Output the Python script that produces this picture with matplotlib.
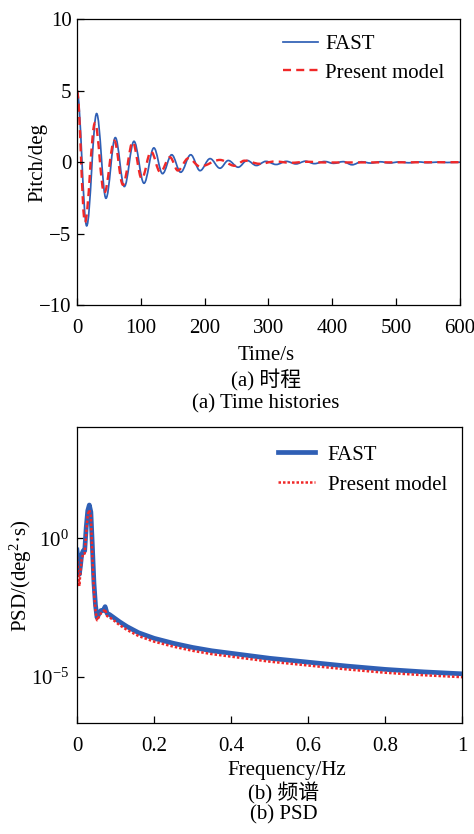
import matplotlib
matplotlib.use('Agg')
import matplotlib.pyplot as plt
from matplotlib.path import Path
from matplotlib.patches import PathPatch
from matplotlib.ticker import NullLocator

plt.rcParams['font.family'] = ['Liberation Serif', 'Noto Sans CJK SC']
plt.rcParams['mathtext.fontset'] = 'custom'
plt.rcParams['mathtext.rm'] = 'Liberation Serif'
plt.rcParams['mathtext.it'] = 'Liberation Serif:italic'
plt.rcParams['font.size'] = 15

# (a) time history: turning points (time s, pitch deg)
t_fast = [0, 15.2, 30.8, 45.4, 60.1, 74.2, 89.3, 105, 120.5, 134, 148.4, 162.5,
          178.2, 192.8, 208.5, 224, 237, 252.5, 266.6, 281, 296, 312, 328, 343,
          358, 372, 388, 402, 417, 431, 446, 460, 475, 490, 505, 520, 535, 550,
          565, 580, 600]
p_fast = [5.0, -4.45, 3.4, -2.52, 1.72, -1.7, 1.46, -1.47, 1.0, -0.8, 0.52, -0.7,
          0.52, -0.59, 0.25, -0.42, 0.12, -0.35, 0.12, -0.23, 0.06, -0.16, 0.06, -0.12,
          0.07, -0.1, 0.05, -0.08, 0.04, -0.18, 0.03, -0.06, 0.03, -0.05, 0.02, -0.04,
          0.02, -0.03, 0.01, -0.02, 0.0]
t_model = [0, 12.5, 28.2, 42.8, 58.5, 72, 87.3, 101.5, 116, 130.5, 145.7, 158,
           174.6, 192.8, 224, 247, 262.5, 286, 310, 335, 360, 390, 600]
p_model = [5.0, -4.2, 2.75, -2.15, 1.5, -1.58, 1.4, -1.15, 0.75, -0.7, 0.35, -0.58,
           0.28, -0.3, 0.16, -0.25, 0.11, -0.11, 0.05, -0.04, 0.03, -0.02, 0.0]

# (b) PSD
freq = [0, 0.003, 0.006, 0.009, 0.012, 0.016, 0.020, 0.024, 0.028, 0.032, 0.036,
        0.040, 0.044, 0.048, 0.052, 0.056, 0.062, 0.068, 0.073, 0.078, 0.085, 0.095,
        0.11, 0.13, 0.16, 0.2, 0.25, 0.3, 0.35, 0.4, 0.5, 0.6, 0.7, 0.8, 0.9, 1.0]
psd_fast_log = [-0.42, -0.8, -1.3, -1.0, -0.6, -0.45, -0.45, 0.4, 1.0, 1.2, 0.95,
                -0.3, -1.6, -2.4, -2.85, -2.75, -2.6, -2.6, -2.46, -2.7, -2.75, -2.85,
                -3.0, -3.18, -3.4, -3.6, -3.78, -3.93, -4.05, -4.14, -4.32, -4.46,
                -4.6, -4.72, -4.81, -4.88]
psd_model_log = [-0.66, -1.2, -1.72, -1.2, -0.78, -0.55, -0.55, 0.2, 0.85, 1.02, 0.8,
                 -0.7, -1.9, -2.6, -2.95, -2.85, -2.7, -2.65, -2.55, -2.8, -2.85, -2.95,
                 -3.12, -3.3, -3.52, -3.72, -3.9, -4.05, -4.17, -4.26, -4.44, -4.58,
                 -4.72, -4.84, -4.93, -5.0]

blue = '#2f5fb5'
red = '#f02828'


def smooth_path(t, v, k=0.364):
    # cubic bezier between successive turning points (horizontal tangents)
    verts = [(t[0], v[0])]
    codes = [Path.MOVETO]
    for i in range(len(t) - 1):
        d = t[i + 1] - t[i]
        verts += [(t[i] + k * d, v[i]), (t[i + 1] - k * d, v[i + 1]), (t[i + 1], v[i + 1])]
        codes += [Path.CURVE4] * 3
    return Path(verts, codes)


def style_axes(ax):
    for s in ax.spines.values():
        s.set_linewidth(0.9)
    ax.tick_params(direction='in', length=5, width=0.9, top=False, right=False,
                   labelsize=15)


fig = plt.figure(figsize=(4.74, 8.34), dpi=100)

# ---- (a)
ax1 = fig.add_axes([0.1624, 0.634, 0.808, 0.343])
ax1.add_patch(PathPatch(smooth_path(t_fast, p_fast), fill=False, edgecolor=blue, lw=1.25))
ax1.add_patch(PathPatch(smooth_path(t_model, p_model), fill=False, edgecolor=red, lw=1.7,
                        linestyle=(0, (3.4, 2.2))))
ax1.plot([], [], color=blue, lw=1.25, label='FAST')
ax1.plot([], [], color=red, lw=1.7, dashes=(3.4, 2.2), label='Present model')
ax1.set_xlim(0, 600)
ax1.set_ylim(-10, 10)
ax1.set_xticks(range(0, 601, 100))
ax1.set_yticks([-10, -5, 0, 5, 10])
style_axes(ax1)
ax1.tick_params(axis='x', pad=10)
ax1.tick_params(axis='y', pad=4)
ax1.legend(loc='upper left', bbox_to_anchor=(0.538, 0.946), frameon=False, borderpad=0,
           borderaxespad=0, handlelength=1.68, handletextpad=0.34, labelspacing=0.42,
           fontsize=15)
fig.text(38 / 474, 1 - 162 / 834, 'Pitch/deg', rotation=90, ha='center', va='center', fontsize=15)
fig.text(266 / 474, 1 - 355 / 834, 'Time/s', ha='center', va='center', fontsize=15)
fig.text(266 / 474, 1 - 380 / 834, '(a) 时程', ha='center', va='center', fontsize=15)
fig.text(266 / 474, 1 - 404 / 834, '(a) Time histories', ha='center', va='center', fontsize=15)

# ---- (b)
ax2 = fig.add_axes([0.1624, 0.1331, 0.8133, 0.3546])
ax2.plot(freq, [10 ** v for v in psd_fast_log], color=blue, lw=3.4, label='FAST')
ax2.plot(freq, [10 ** v for v in psd_model_log], color=red, lw=1.8, linestyle=(0, (1, 0.8)),
         label='Present model')
ax2.set_yscale('log')
ax2.set_xlim(0, 1)
ax2.set_ylim(10 ** -6.65, 1e4)
ax2.set_xticks([0, 0.2, 0.4, 0.6, 0.8, 1])
ax2.set_xticklabels(['0', '0.2', '0.4', '0.6', '0.8', '1'])
ax2.set_yticks([1e-5, 1e0])
ax2.yaxis.set_minor_locator(NullLocator())
style_axes(ax2)
ax2.tick_params(axis='x', pad=10)
ax2.tick_params(axis='y', pad=6)
ax2.legend(loc='upper left', bbox_to_anchor=(0.521, 0.94), frameon=False, borderpad=0,
           borderaxespad=0, handlelength=1.78, handletextpad=0.62, labelspacing=0.5,
           fontsize=15)
fig.text(21 / 474, 1 - 576 / 834, 'PSD/(deg$^{2}$·s)', rotation=90, ha='center', va='center',
         fontsize=15)
fig.text(287 / 474, 1 - 770 / 834, 'Frequency/Hz', ha='center', va='center', fontsize=15)
fig.text(284 / 474, 1 - 793 / 834, '(b) 频谱', ha='center', va='center', fontsize=15)
fig.text(284 / 474, 1 - 815 / 834, '(b) PSD', ha='center', va='center', fontsize=15)

fig.savefig('out.png', dpi=100)
